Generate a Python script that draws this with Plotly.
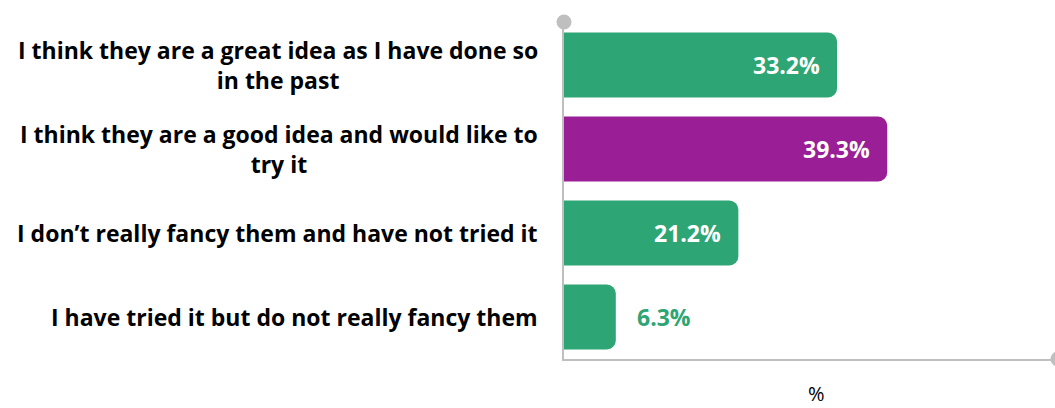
import plotly.graph_objects as go

categories = [
    "I think they are a great idea as I have done so<br>in the past",
    "I think they are a good idea and would like to<br>try it",
    "I don’t really fancy them and have not tried it",
    "I have tried it but do not really fancy them",
]
values = [33.2, 39.3, 21.2, 6.3]
bar_colors = ["#2EA574", "#9A1F96", "#2EA574", "#2EA574"]
x_title = "%"

GREEN = "#2EA574"
AXIS = "#BFBFBF"
FONT = "Open Sans"

fig = go.Figure()
fig.add_trace(go.Bar(
    y=categories, x=values, orientation="h",
    marker=dict(color=bar_colors, cornerradius=9, line=dict(width=0)),
    hoverinfo="skip", showlegend=False,
))

annotations = []
for i, (cat, v) in enumerate(zip(categories, values)):
    annotations.append(dict(
        x=-0.049, xref="paper", xanchor="right", align="center",
        y=i, yref="y", text="<b>" + cat + "</b>", showarrow=False,
        font=dict(family=FONT, size=23, color="#000000"),
    ))
    inside = v > 10
    annotations.append(dict(
        x=v, xref="x", y=i, yref="y",
        xanchor="right" if inside else "left",
        xshift=-15 if inside else 19,
        text="<b>%.1f%%</b>" % v, showarrow=False,
        font=dict(family=FONT, size=23, color="#FFFFFF" if inside else GREEN),
    ))

# axis title
annotations.append(dict(
    x=0.515, xref="paper", y=-0.104, yref="paper", xanchor="center", yanchor="middle",
    text=x_title, showarrow=False, font=dict(family=FONT, size=20, color="#000000"),
))

shapes = [
    dict(type="circle", xref="paper", yref="paper", xsizemode="pixel", ysizemode="pixel",
         xanchor=0, yanchor=1, x0=-7.5, x1=7.5, y0=-6.5, y1=8.5,
         fillcolor=AXIS, line=dict(width=0), layer="above"),
    dict(type="circle", xref="paper", yref="paper", xsizemode="pixel", ysizemode="pixel",
         xanchor=1, yanchor=0, x0=-4.5, x1=10.5, y0=-7.5, y1=7.5,
         fillcolor=AXIS, line=dict(width=0), layer="above"),
]

fig.update_layout(
    width=1055, height=408,
    margin=dict(l=564, r=0, t=23, b=49),
    paper_bgcolor="white", plot_bgcolor="white",
    bargap=0.226,
    annotations=annotations,
    shapes=shapes,
    font=dict(family=FONT),
    xaxis=dict(range=[0, 59.7], showgrid=False, zeroline=False,
               showticklabels=False, ticks="", showline=True,
               linecolor=AXIS, linewidth=2),
    yaxis=dict(autorange=False, range=[3.5, -0.5], showgrid=False, zeroline=False,
               showticklabels=False, ticks="", showline=True,
               linecolor=AXIS, linewidth=2),
)
fig.write_html(
    "out.html",
    config={"displayModeBar": False},
    post_script="document.body.style.margin='0';document.body.style.overflow='hidden';",
)
